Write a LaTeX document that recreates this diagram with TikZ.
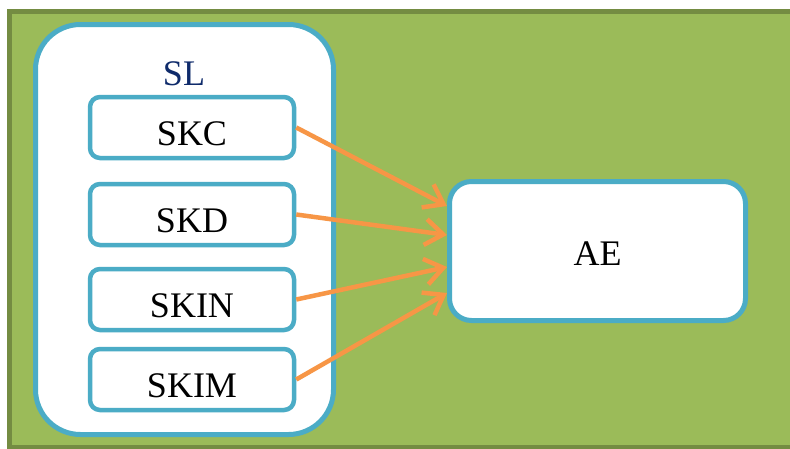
\documentclass[tikz,border=0pt]{standalone}
\usepackage{fontspec}
\setmainfont{Liberation Serif}
\usetikzlibrary{arrows.meta,calc}
\definecolor{bggreen}{HTML}{9BBB59}
\definecolor{bgborder}{HTML}{748C42}
\definecolor{boxblue}{HTML}{4BACC6}
\definecolor{arrow}{HTML}{F79646}
\definecolor{navy}{HTML}{0F2B6B}
\tikzset{
  group/.style={draw=boxblue, line width=5pt, fill=white, rounded corners=45pt, minimum width=298pt, minimum height=410pt, inner sep=0pt},
  item/.style={draw=boxblue, line width=4.5pt, fill=white, rounded corners=10pt, minimum width=204pt, minimum height=61pt, inner sep=0pt, text height=35pt, text depth=0pt, font=\fontsize{36}{40}\selectfont},
  target/.style={draw=boxblue, line width=5pt, fill=white, rounded corners=22pt, minimum width=296pt, minimum height=139pt, inner sep=0pt, text height=28pt, text depth=0pt, font=\fontsize{36}{40}\selectfont},
  link/.style={draw=arrow, line width=4.5pt, -{Straight Barb[length=18pt,width=26pt]}}
}
\begin{document}
\begin{tikzpicture}[x=1pt,y=-1pt]
\path[use as bounding box] (0,0) rectangle (790,448);
\clip (0,0) rectangle (790,448);
\fill[white] (0,0) rectangle (790,448);
\draw[fill=bggreen, draw=bgborder, line width=5pt] (9.5,11.5) rectangle (810,447.5);
\node[group] (sl) at (184.5,229.5) {};
\node[anchor=base, text=navy, inner sep=0pt, font=\fontsize{36}{40}\selectfont] (sllabel) at (184,85) {SL};
\node[item] (skc) at (192,127.5) {SKC};
\node[item] (skd) at (192,214.5) {SKD};
\node[item] (skin) at (192,299.5) {SKIN};
\node[item] (skim) at (192,379.5) {SKIM};
\node[target] (ae) at (597.5,251) {AE};
\coordinate (e1) at ([yshift=45pt]ae.west);
\coordinate (e2) at ([yshift=16pt]ae.west);
\coordinate (e3) at ([yshift=-16pt]ae.west);
\coordinate (e4) at ([yshift=-42pt]ae.west);
\draw[link] (skc.east) -- (e1);
\draw[link] (skd.east) -- (e2);
\draw[link] (skin.east) -- (e3);
\draw[link] (skim.east) -- (e4);
\end{tikzpicture}
\end{document}
